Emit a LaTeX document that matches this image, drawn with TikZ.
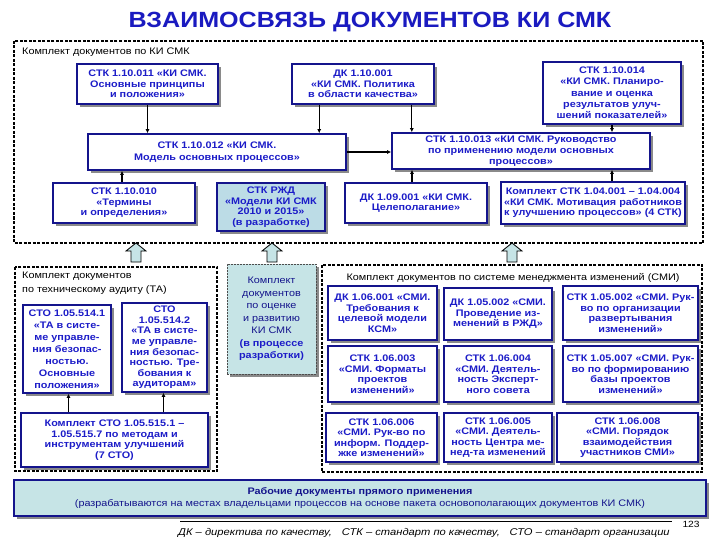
\documentclass[tikz,border=0pt]{standalone}
\usepackage{fontspec}
\setmainfont{Liberation Sans}[FakeStretch=1.14]
\usetikzlibrary{arrows.meta,shadows,calc}
\definecolor{navy}{HTML}{14148C}
\definecolor{txtblue}{HTML}{1C1CC8}
\definecolor{titleblue}{HTML}{1A1AC0}
\definecolor{teal1}{HTML}{C6E4E6}
\definecolor{rzd}{HTML}{BCDCE6}
\definecolor{shade}{HTML}{8A8A8A}
\newcommand\blockup[1]{\draw[blockarrow] (#1-5,262) -- (#1-5,251) -- (#1-10,251) -- (#1,243) -- (#1+10,251) -- (#1+5,251) -- (#1+5,262) -- cycle;}
\begin{document}
\begin{tikzpicture}[x=1pt,y=-1pt,
  doc/.style={draw=navy, line width=1.6pt, fill=white, text=txtblue,
    font=\fontsize{9.5}{10.5}\selectfont\bfseries, align=center, inner sep=1pt,
    drop shadow={shadow xshift=3pt, shadow yshift=-3pt, fill=shade, opacity=1}},
  frame/.style={draw=black, line width=1.3pt, dash pattern=on 3pt off 1.5pt},
  lbl/.style={font=\fontsize{9.5}{11}\selectfont, text=black, inner sep=0pt},
  conn/.style={line width=1.3pt, -{Latex[length=4pt,width=4pt]}},
  blockarrow/.style={draw=black, line width=0.8pt, fill=teal1}
]
\useasboundingbox (0,0) rectangle (720,540);
\fill[white] (0,0) rectangle (720,540);

% title
\node[font=\fontsize{22}{26}\selectfont\bfseries, text=titleblue] (title) at (370,22) {ВЗАИМОСВЯЗЬ ДОКУМЕНТОВ КИ СМК};

% ---------- top frame ----------
\draw[frame] (14,41) rectangle (703,243);
\node[lbl, anchor=west] (ltop) at (22,52) {Комплект документов по КИ СМК};

\node[doc, minimum width=141pt, minimum height=40pt] (b011) at (147.5,84) {СТК 1.10.011 «КИ СМК.\\Основные принципы\\и положения»};
\node[doc, minimum width=142pt, minimum height=40pt] (b001) at (363,84) {ДК 1.10.001\\«КИ СМК. Политика\\в области качества»};
\node[doc, minimum width=138pt, minimum height=62pt, font=\fontsize{9.5}{11.3}\selectfont\bfseries] (b014) at (612,93) {СТК 1.10.014\\«КИ СМК. Планиро-\\вание и оценка\\результатов улуч-\\шений показателей»};
\node[doc, minimum width=258pt, minimum height=36pt, font=\fontsize{9.5}{12}\selectfont\bfseries] (b012) at (217,152) {СТК 1.10.012 «КИ СМК.\\Модель основных процессов»};
\node[doc, minimum width=258pt, minimum height=36pt, font=\fontsize{9.5}{10.8}\selectfont\bfseries] (b013) at (521,151) {СТК 1.10.013 «КИ СМК. Руководство\\по применению модели основных\\процессов»};
\node[doc, minimum width=142pt, minimum height=40pt] (b010) at (124,203) {СТК 1.10.010\\«Термины\\и определения»};
\node[doc, fill=rzd, minimum width=108pt, minimum height=48pt] (brzd) at (271,207) {СТК РЖД\\«Модели КИ СМК\\2010 и 2015»\\(в разработке)};
\node[doc, minimum width=142pt, minimum height=40pt] (b09) at (416,203) {ДК 1.09.001 «КИ СМК.\\Целеполагание»};
\node[doc, minimum width=184pt, minimum height=42pt] (b04) at (593,203) {Комплект СТК 1.04.001 – 1.04.004\\«КИ СМК. Мотивация работников\\к улучшению процессов» (4 СТК)};

\draw[conn] (b011.south) -- (b011.south |- b012.north);
\draw[conn] ([xshift=28pt]b001.south west) -- ([xshift=28pt]b001.south west |- b012.north);
\draw[conn] ([xshift=-23pt]b001.south east) -- ([xshift=-23pt]b001.south east |- b013.north);
\draw[conn] (b014.south) -- (b014.south |- b013.north);
\draw[conn] (b012.east) -- (b012.east -| b013.west);
\draw[conn] ([xshift=-2pt]b010.north) -- ([xshift=-2pt]b010.north |- b012.south);
\draw[conn] ([xshift=-4pt]b09.north) -- ([xshift=-4pt]b09.north |- b013.south);
\draw[conn] ([xshift=19pt]b04.north) -- ([xshift=19pt]b04.north |- b013.south);

% ---------- block arrows ----------
\blockup{136}
\blockup{272}
\blockup{512}

% ---------- left frame ----------
\draw[frame] (15,267) rectangle (217,471);
\node[lbl, anchor=west] (lleft1) at (22,276) {Комплект документов};
\node[lbl, anchor=west] (lleft2) at (22,290) {по техническому аудиту (ТА)};

\node[doc, minimum width=88pt, minimum height=88pt, font=\fontsize{9.5}{12}\selectfont\bfseries] (b5141) at (67,349) {СТО 1.05.514.1\\«ТА в систе-\\ме управле-\\ния безопас-\\ностью.\\Основные\\положения»};
\node[doc, minimum width=85pt, minimum height=89pt, font=\fontsize{9.5}{10.6}\selectfont\bfseries] (b5142) at (164.5,347.5) {СТО\\1.05.514.2\\«ТА в систе-\\ме управле-\\ния безопас-\\ностью. Тре-\\бования к\\аудиторам»};
\node[doc, minimum width=187pt, minimum height=54pt] (b515) at (114.5,440) {Комплект СТО 1.05.515.1 –\\1.05.515.7 по методам и\\инструментам улучшений\\(7 СТО)};

\draw[conn] ([xshift=-46pt]b515.north) -- ([xshift=-46pt]b515.north |- b5141.south);
\draw[conn] ([xshift=49pt]b515.north) -- ([xshift=49pt]b515.north |- b5142.south);

% ---------- middle box ----------
\node[draw=black!70, dash pattern=on 2pt off 1pt, line width=1pt, fill=teal1, align=center,
  minimum width=89pt, minimum height=110pt, inner sep=1pt,
  font=\fontsize{9.5}{12.5}\selectfont, text=navy,
  drop shadow={shadow xshift=3pt, shadow yshift=-3pt, fill=shade, opacity=1}] (bmid) at (271.5,319)
  {Комплект\\документов\\по оценке\\и развитию\\КИ СМК\\{\bfseries\color{txtblue}(в процессе}\\{\bfseries\color{txtblue}разработки)}};

% ---------- right frame ----------
\draw[frame] (322,265) rectangle (702,472);
\node[lbl] (lright) at (513,278) {Комплект документов по системе менеджмента изменений (СМИ)};

\node[doc, minimum width=109pt, minimum height=54pt] (r11) at (382.5,313) {ДК 1.06.001 «СМИ.\\Требования к\\целевой модели\\КСМ»};
\node[doc, minimum width=108pt, minimum height=52pt] (r12) at (498,314) {ДК 1.05.002 «СМИ.\\Проведение из-\\менений в РЖД»};
\node[doc, minimum width=135pt, minimum height=54pt] (r13) at (630.5,313) {СТК 1.05.002 «СМИ. Рук-\\во по организации\\развертывания\\изменений»};

\node[doc, minimum width=109pt, minimum height=56pt] (r21) at (382.5,374) {СТК 1.06.003\\«СМИ. Форматы\\проектов\\изменений»};
\node[doc, minimum width=108pt, minimum height=56pt] (r22) at (498,374) {СТК 1.06.004\\«СМИ. Деятель-\\ность Эксперт-\\ного совета};
\node[doc, minimum width=135pt, minimum height=56pt] (r23) at (630.5,374) {СТК 1.05.007 «СМИ. Рук-\\во по формированию\\базы проектов\\изменений»};

\node[doc, minimum width=111pt, minimum height=49pt] (r31) at (381.5,437.5) {СТК 1.06.006\\«СМИ. Рук-во по\\информ. Поддер-\\жке изменений»};
\node[doc, minimum width=108pt, minimum height=49pt] (r32) at (498,437.5) {СТК 1.06.005\\«СМИ. Деятель-\\ность Центра ме-\\нед-та изменений};
\node[doc, minimum width=141pt, minimum height=49pt] (r33) at (627.5,437.5) {СТК 1.06.008\\«СМИ. Порядок\\взаимодействия\\участников СМИ»};

% ---------- banner ----------
\node[doc, fill=teal1, text=navy, line width=1.8pt, minimum width=692pt, minimum height=36pt,
  font=\fontsize{9.5}{12}\selectfont] (banner) at (360,498)
  {{\bfseries Рабочие документы прямого применения}\\(разрабатываются на местах владельцами процессов на основе пакета основополагающих документов КИ СМК)};

% ---------- footer ----------
\coordinate (fl) at (180,521);
\coordinate (fr) at (672,521);
\draw[line width=0.6pt] (fl) -- (fr);
\node[font=\fontsize{9}{10}\selectfont, anchor=west] (pnum) at (679,524) {123};
\node[font=\fontsize{9.8}{11}\selectfont\itshape, anchor=west, inner sep=0pt] (legend) at (178,533) {ДК – директива по качеству,\quad СТК – стандарт по качеству,\quad СТО – стандарт организации};
\end{tikzpicture}
\end{document}
